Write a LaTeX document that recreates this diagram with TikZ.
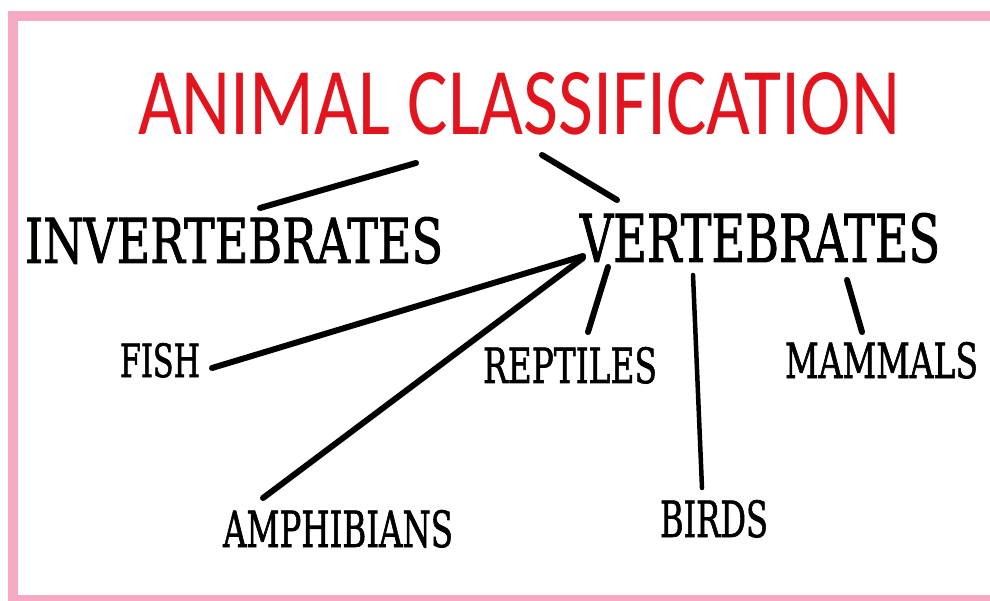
\documentclass[tikz,border=0pt]{standalone}
\usepackage{fontspec}
\usepackage{graphicx}
\setmainfont{DejaVu Serif Condensed}
\newfontfamily\slab{DejaVu Serif Condensed}[FakeBold=1.5]
\newfontfamily\titlefont{Carlito}
\definecolor{pinkframe}{HTML}{F6A9C3}
\definecolor{titlered}{HTML}{E2141E}
\tikzset{
  lbl/.style={anchor=base west, inner sep=0pt, outer sep=0pt, font=\slab},
  conn/.style={line width=6pt, line cap=round},
  thinconn/.style={line width=4.5pt, line cap=round}
}
\newcommand{\fitword}[3]{\resizebox{#1pt}{#2pt}{#3}}
\begin{document}
\begin{tikzpicture}[x=1pt,y=-1pt]
\useasboundingbox (0,0) rectangle (990,601);
\begin{scope}
\clip (0,0) rectangle (990,601);
\draw[pinkframe, line width=10pt] (12.5,16) rectangle (1010,600);
\end{scope}
% labels
\node[lbl, text=titlered, font=\titlefont] (title) at (138,135) {\fitword{762}{62}{ANIMAL CLASSIFICATION}};
\node[lbl] (invert) at (25,263) {\fitword{418}{46}{INVERTEBRATES}};
\node[lbl] (vert) at (580,262) {\fitword{360}{49}{VERTEBRATES}};
\node[lbl] (fish) at (120,377) {\fitword{80}{34}{FISH}};
\node[lbl] (amph) at (223,547) {\fitword{230}{37}{AMPHIBIANS}};
\node[lbl] (rept) at (483,383) {\fitword{174}{36}{REPTILES}};
\node[lbl] (mamm) at (785,378) {\fitword{193}{36}{MAMMALS}};
\node[lbl] (birds) at (660,537) {\fitword{108}{37}{BIRDS}};
% connector end points
\coordinate (tL) at (416,163);
\coordinate (iT) at (260,208);
\coordinate (tR) at (542,155);
\coordinate (vT) at (617,200);
\coordinate (vF) at (583,256);
\coordinate (fE) at (212,368);
\coordinate (vA) at (583,258);
\coordinate (aT) at (263,498);
\coordinate (vR) at (608,267);
\coordinate (rT) at (588,332);
\coordinate (vB) at (693,275);
\coordinate (bT) at (702,488);
\coordinate (vM) at (847,280);
\coordinate (mT) at (862,332);
% connectors
\draw[conn] (tL) -- (iT);
\draw[conn] (tR) -- (vT);
\draw[conn] (vF) -- (fE);
\draw[conn] (vA) -- (aT);
\draw[conn] (vR) -- (rT);
\draw[thinconn] (vB) -- (bT);
\draw[conn] (vM) -- (mT);
\end{tikzpicture}
\end{document}
